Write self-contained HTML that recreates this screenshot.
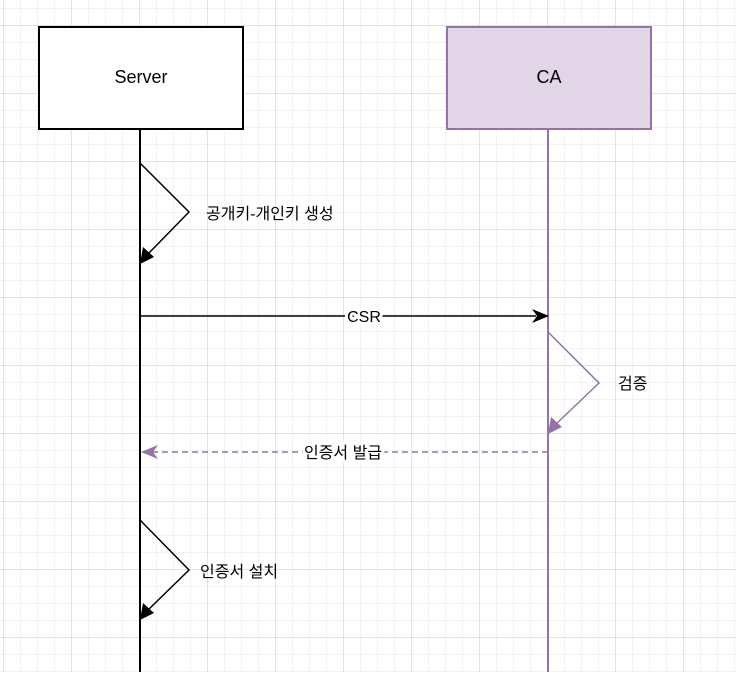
<!DOCTYPE html>
<html><head><meta charset="utf-8"><style>
body{margin:0;width:736px;height:672px;overflow:hidden;background:#fff}
text{font-family:"Liberation Sans","Noto Sans CJK KR",sans-serif;font-size:16px}
</style></head><body>
<svg width="736" height="672" xmlns="http://www.w3.org/2000/svg">
<defs>
<pattern id="mi" x="3" y="8" width="17" height="17" patternUnits="userSpaceOnUse"><path d="M0 0H17M0 0V17" stroke="#ebebeb" stroke-width="1.2" fill="none"/></pattern>
<pattern id="ma" x="3" y="25" width="68" height="68" patternUnits="userSpaceOnUse"><path d="M0 0H68M0 0V68" stroke="#d3d3d3" stroke-width="1.2" fill="none"/></pattern>
</defs>
<rect width="736" height="672" fill="url(#mi)"/>
<rect width="736" height="672" fill="url(#ma)"/>
<line x1="140" y1="129" x2="140" y2="672" stroke="#000" stroke-width="2"/>
<line x1="548" y1="129" x2="548" y2="672" stroke="#9673a6" stroke-width="2"/>
<rect x="39" y="27" width="204" height="102" fill="#fff" stroke="#000" stroke-width="2"/>
<text x="141" y="83" text-anchor="middle" style="font-size:18px">Server</text>
<rect x="447" y="27" width="204" height="102" fill="#e1d5e7" stroke="#9673a6" stroke-width="2"/>
<text x="549" y="83" text-anchor="middle" style="font-size:18px">CA</text>
<polyline points="140,163 189,212 148,254" fill="none" stroke="#000" stroke-width="1.5"/>
<polygon points="140,264 143,247 154,257" fill="#000"/>
<text x="206" y="219">공개키-개인키 생성</text>
<line x1="141" y1="316" x2="536" y2="316" stroke="#000" stroke-width="1.5"/>
<polygon points="549,316 532,309 537,316 532,323" fill="#000"/>
<text x="364" y="322" text-anchor="middle" style="paint-order:stroke;stroke:#fff;stroke-width:6px">CSR</text>
<polyline points="548,332 599,383 556,424" fill="none" stroke="#9673a6" stroke-width="1.5"/>
<polygon points="548,434 551,417 562,427" fill="#9673a6"/>
<text x="618" y="389">검증</text>
<line x1="152" y1="452" x2="548" y2="452" stroke="#9673a6" stroke-width="1.5" stroke-dasharray="6,4"/>
<polygon points="141,452 158,445 153,452 158,459" fill="#9673a6"/>
<text x="343" y="458" text-anchor="middle" style="paint-order:stroke;stroke:#fff;stroke-width:6px">인증서 발급</text>
<polyline points="140,520 189,570 148,610" fill="none" stroke="#000" stroke-width="1.5"/>
<polygon points="140,620 143,603 154,613" fill="#000"/>
<text x="200" y="577">인증서 설치</text>
</svg>
</body></html>
